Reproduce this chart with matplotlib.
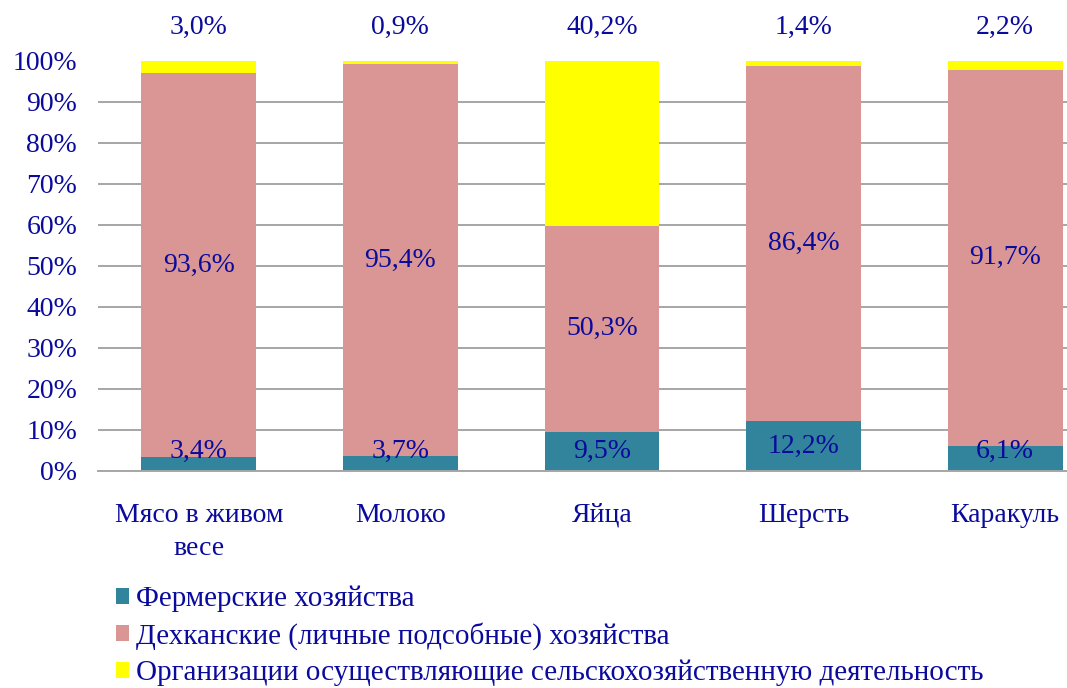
import matplotlib.pyplot as plt
import numpy as np

plt.rcParams['font.family'] = ['Liberation Serif', 'DejaVu Serif']

categories = ['Мясо в живом\nвесе', 'Молоко', 'Яйца', 'Шерсть', 'Каракуль']
fermer = [3.4, 3.7, 9.5, 12.2, 6.1]
dekhkan = [93.6, 95.4, 50.3, 86.4, 91.7]
organiz = [3.0, 0.9, 40.2, 1.4, 2.2]
series_names = ['Фермерские хозяйства',
                'Дехканские (личные подсобные) хозяйства',
                'Организации осуществляющие сельскохозяйственную деятельность']

txt = '#0a0a9c'
colors = ['#31849b', '#d99694', '#ffff00']
fs = 20

fig = plt.figure(figsize=(10.67, 6.88), dpi=100)
ax = fig.add_axes([98 / 1067, 217 / 688, 1008 / 1067, 410.5 / 688])

x = np.arange(len(categories))
w = 0.57
f = np.array(fermer)
d = np.array(dekhkan)
o = np.array(organiz)
b1 = ax.bar(x, f, w, color=colors[0], label=series_names[0], zorder=2)
b2 = ax.bar(x, d, w, bottom=f, color=colors[1], label=series_names[1], zorder=2)
b3 = ax.bar(x, o, w, bottom=f + d, color=colors[2], label=series_names[2], zorder=2)

fmt = lambda v: f'{v:.1f}%'.replace('.', ',')
for i in range(len(x)):
    ax.text(x[i], max(f[i] / 2, 4.8), fmt(f[i]), ha='center', va='center',
            color=txt, fontsize=fs, zorder=3)
    ax.text(x[i], f[i] + d[i] / 2, fmt(d[i]), ha='center', va='center',
            color=txt, fontsize=fs, zorder=3)
    ax.annotate(fmt(o[i]), (x[i], 100), xytext=(0, 24), textcoords='offset points',
                ha='center', va='center', color=txt, fontsize=fs, annotation_clip=False)

ax.set_xlim(-0.5, len(x) - 0.5)
ax.set_ylim(0, 100)
ax.set_yticks(np.arange(0, 101, 10))
ax.set_yticklabels([f'{v}%' for v in range(0, 101, 10)])
ax.set_xticks(x)
ax.set_xticklabels(categories, linespacing=1.45)
ax.tick_params(axis='both', length=0, labelsize=fs, colors=txt)
ax.tick_params(axis='y', pad=15)
ax.tick_params(axis='x', pad=23)
ax.grid(axis='y', color='#a6a6a6', linewidth=1.4, zorder=0)
ax.set_axisbelow(True)
for s in ['top', 'right', 'left']:
    ax.spines[s].set_visible(False)
ax.spines['bottom'].set_color('#a6a6a6')
ax.spines['bottom'].set_linewidth(1.4)

fig.legend(handles=[b1, b2, b3], loc='upper left', bbox_to_anchor=(116 / 1067, 1 - 586 / 688),
           frameon=False, fontsize=21, labelcolor=txt, handlelength=0.45, handleheight=0.45,
           handletextpad=0.25, labelspacing=0.33, borderaxespad=0, borderpad=0)

fig.savefig('out.png', dpi=100)
